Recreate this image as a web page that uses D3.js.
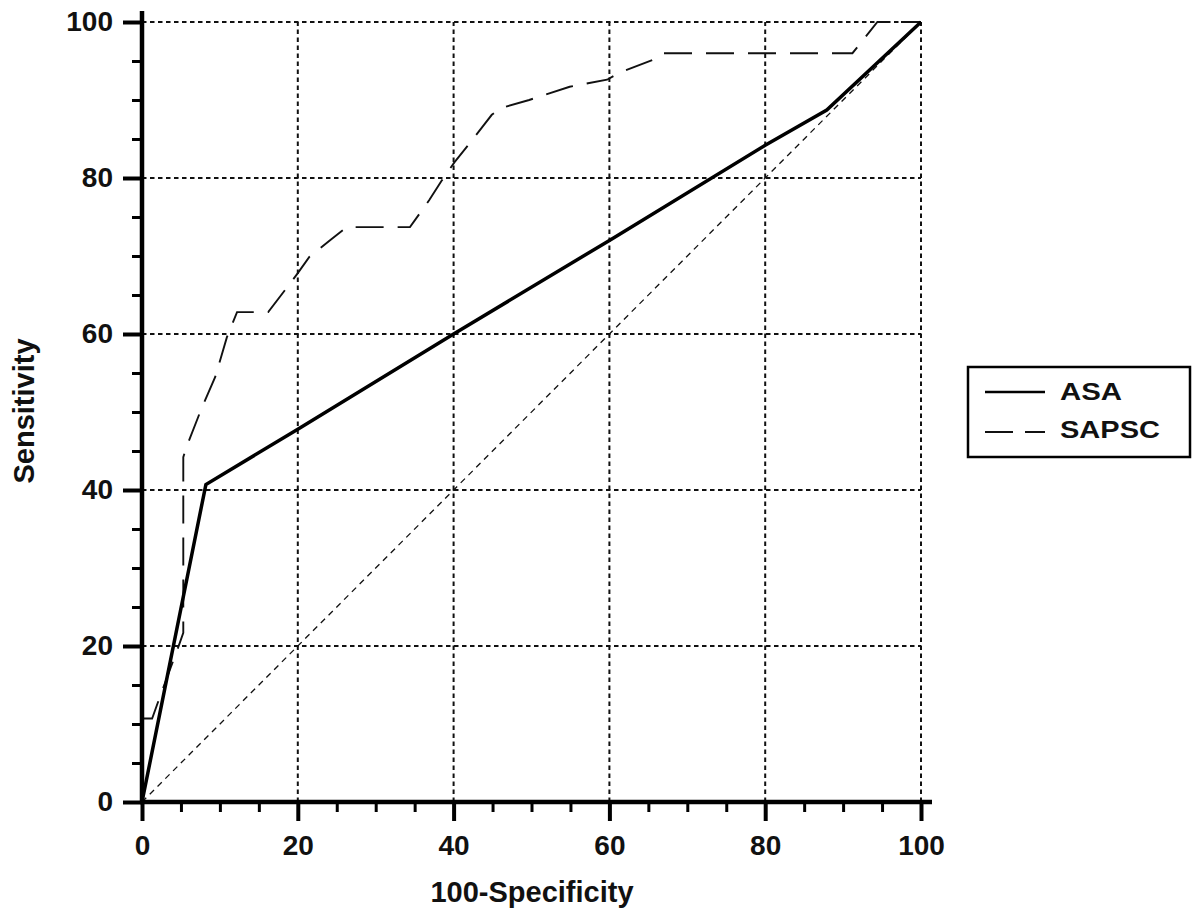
<!DOCTYPE html>
<html>
<head>
<meta charset="utf-8">
<script src="https://cdn.jsdelivr.net/npm/d3@7"></script>
<style>
  body { margin: 0; background: #fff; }
  svg { display: block; }
  text { font-family: "Liberation Sans", Arial, sans-serif; font-weight: bold; fill: #111; }
</style>
</head>
<body>
<div id="chart"></div>
<script>
// ROC curves (x = 100-Specificity, y = Sensitivity)
var asaX = [0, 8.2, 20, 40, 60, 80, 87.9, 100];
var asaY = [0, 40.7, 47.8, 60, 72, 84.2, 88.7, 100];

var sapscX = [0, 0, 1.3, 2.3, 4.6, 5.3, 5.3, 5.7, 7.7, 9.4, 10.9, 12.2, 16.2, 20, 21.5, 24.1, 26.3, 34.4, 36.9, 38.5, 40.1, 42.1, 44.9, 46.2, 49.7, 54.9, 59.7, 61.3, 65.5, 66.8, 91.2, 94.4, 100];
var sapscY = [0, 10.7, 10.7, 13.5, 19.7, 21.7, 44.2, 45.5, 50.6, 54.5, 59.6, 62.8, 62.8, 67.8, 69.9, 72, 73.7, 73.7, 77.2, 79.7, 82, 84.5, 88.1, 89, 90, 91.7, 92.6, 93.5, 95.1, 96, 96, 100, 100];

var refX = [0, 100];
var refY = [0, 100];

var majorTicks = [0, 20, 40, 60, 80, 100];
var minorTicks = [5, 10, 15, 25, 30, 35, 45, 50, 55, 65, 70, 75, 85, 90, 95];
var seriesNames = ["ASA", "SAPSC"];

var w = 1200, h = 922;

var x = d3.scaleLinear().domain([0, 100]).range([142, 921]);
var y = d3.scaleLinear().domain([0, 100]).range([802, 22]);

var svg = d3.select("#chart").append("svg")
  .attr("width", w)
  .attr("height", h);

// grid
var grid = majorTicks.filter(function(d) { return d > 0; });
svg.selectAll(".vgrid").data(grid).enter().append("line")
  .attr("x1", function(d) { return x(d); })
  .attr("x2", function(d) { return x(d); })
  .attr("y1", y(0)).attr("y2", y(100))
  .attr("stroke", "#111").attr("stroke-width", 2)
  .attr("stroke-dasharray", "4.5,3.5");
svg.selectAll(".hgrid").data(grid).enter().append("line")
  .attr("y1", function(d) { return y(d); })
  .attr("y2", function(d) { return y(d); })
  .attr("x1", x(0)).attr("x2", x(100))
  .attr("stroke", "#111").attr("stroke-width", 2)
  .attr("stroke-dasharray", "4.5,3.5");

function zip(xs, ys) {
  return xs.map(function(d, i) { return [d, ys[i]]; });
}

var line = d3.line()
  .x(function(d) { return x(d[0]); })
  .y(function(d) { return y(d[1]); });

// chance line
svg.append("path")
  .attr("d", line(zip(refX, refY)))
  .attr("fill", "none")
  .attr("stroke", "#111")
  .attr("stroke-width", 1.3)
  .attr("stroke-dasharray", "6,5");

// SAPSC
svg.append("path")
  .attr("d", line(zip(sapscX, sapscY)))
  .attr("fill", "none")
  .attr("stroke", "#111")
  .attr("stroke-width", 1.9)
  .attr("stroke-dasharray", "28,14");

// ASA
svg.append("path")
  .attr("d", line(zip(asaX, asaY)))
  .attr("fill", "none")
  .attr("stroke", "#000")
  .attr("stroke-width", 3.5);

// axes
var xMajor = svg.append("g")
  .attr("transform", "translate(0," + y(0) + ")")
  .call(d3.axisBottom(x).tickValues(majorTicks).tickSize(19).tickSizeOuter(0).tickPadding(14));
var xMinor = svg.append("g")
  .attr("transform", "translate(0," + y(0) + ")")
  .call(d3.axisBottom(x).tickValues(minorTicks).tickSize(10).tickFormat(""));
var yMajor = svg.append("g")
  .attr("transform", "translate(" + x(0) + ",0)")
  .call(d3.axisLeft(y).tickValues(majorTicks).tickSize(19).tickSizeOuter(0).tickPadding(10));
var yMinor = svg.append("g")
  .attr("transform", "translate(" + x(0) + ",0)")
  .call(d3.axisLeft(y).tickValues(minorTicks).tickSize(10).tickFormat(""));

svg.selectAll(".domain").remove();
svg.selectAll(".tick line").attr("stroke", "#000").attr("stroke-width", 3);
xMajor.selectAll(".tick line").attr("stroke-width", 4);
yMajor.selectAll(".tick line").attr("stroke-width", 4);
svg.selectAll(".tick text")
  .style("font-family", "'Liberation Sans', Arial, sans-serif")
  .style("font-weight", "bold")
  .style("font-size", "28px")
  .attr("fill", "#111");

// heavy axis lines
svg.append("line")
  .attr("x1", x(0) - 2).attr("x2", x(100) + 11)
  .attr("y1", y(0)).attr("y2", y(0))
  .attr("stroke", "#000").attr("stroke-width", 4.5);
svg.append("line")
  .attr("x1", x(0)).attr("x2", x(0))
  .attr("y1", y(0) + 2).attr("y2", y(100) - 11)
  .attr("stroke", "#000").attr("stroke-width", 4.5);

// axis titles
svg.append("text")
  .attr("x", 532).attr("y", 902)
  .attr("text-anchor", "middle")
  .style("font-size", "29px")
  .text("100-Specificity");
svg.append("text")
  .attr("transform", "translate(34,411) rotate(-90)")
  .attr("text-anchor", "middle")
  .style("font-size", "29px")
  .text("Sensitivity");

// legend
var legend = svg.append("g");
legend.append("rect")
  .attr("x", 968).attr("y", 367)
  .attr("width", 222).attr("height", 90)
  .attr("fill", "#fff")
  .attr("stroke", "#000").attr("stroke-width", 2.5);
legend.append("line")
  .attr("x1", 985).attr("x2", 1045).attr("y1", 392).attr("y2", 392)
  .attr("stroke", "#000").attr("stroke-width", 2.5);
legend.append("line")
  .attr("x1", 985).attr("x2", 1045).attr("y1", 432).attr("y2", 432)
  .attr("stroke", "#111").attr("stroke-width", 1.8)
  .attr("stroke-dasharray", "28,12");
legend.selectAll(".ltext").data(seriesNames).enter().append("text")
  .attr("x", 1060)
  .attr("y", function(d, i) { return 400 + i * 38; })
  .attr("textLength", function(d, i) { return i === 0 ? 62 : 100; })
  .attr("lengthAdjust", "spacingAndGlyphs")
  .style("font-size", "24px")
  .text(function(d) { return d; });
</script>
</body>
</html>
